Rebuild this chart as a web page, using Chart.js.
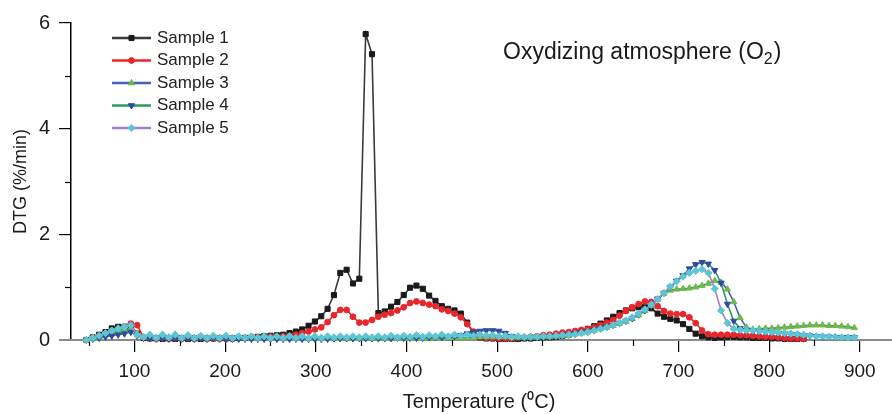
<!DOCTYPE html>
<html>
<head>
<meta charset="utf-8">
<script src="https://cdn.jsdelivr.net/npm/chart.js@4.4.1/dist/chart.umd.min.js"></script>
<style>
  html, body { margin: 0; padding: 0; background: #fff; }
</style>
</head>
<body>
<canvas id="graficoDTG" width="892" height="414"></canvas>
<script>
// temperatura (oC) - passo de 7 graus
const temperaturas = [
  47, 54, 61, 68, 75, 82, 89, 96, 103, 110,
  117, 124, 131, 138, 145, 152, 159, 166, 173, 180,
  187, 194, 201, 208, 215, 222, 229, 236, 243, 250,
  257, 264, 271, 278, 285, 292, 299, 306, 313, 320,
  327, 334, 341, 348, 355, 362, 369, 376, 383, 390,
  397, 404, 411, 418, 425, 432, 439, 446, 453, 460,
  467, 474, 481, 488, 495, 502, 509, 516, 523, 530,
  537, 544, 551, 558, 565, 572, 579, 586, 593, 600,
  607, 614, 621, 628, 635, 642, 649, 656, 663, 670,
  677, 684, 691, 698, 705, 712, 719, 726, 733, 740,
  747, 754, 761, 768, 775, 782, 789, 796, 803, 810,
  817, 824, 831, 838, 845, 852, 859, 866, 873, 880,
  887, 894
];

const amostra1 = [
  0, 0.05, 0.1, 0.15, 0.22, 0.25, 0.25, 0.27, 0.12, 0.04,
  0.03, 0.03, 0.02, 0.03, 0.02, 0.03, 0.02, 0.03, 0.02, 0.03,
  0.03, 0.03, 0.03, 0.03, 0.04, 0.04, 0.05, 0.06, 0.07, 0.08,
  0.09, 0.1, 0.13, 0.16, 0.2, 0.27, 0.35, 0.45, 0.59, 0.85,
  1.27, 1.33, 1.07, 1.16, 5.79, 5.41, 0.51, 0.54, 0.63, 0.72,
  0.85, 0.99, 1.03, 0.97, 0.84, 0.74, 0.64, 0.59, 0.56, 0.5,
  0.33, 0.12, 0.05, 0.03, 0.03, 0.02, 0.02, 0.02, 0.02, 0.03,
  0.03, 0.04, 0.05, 0.05, 0.06, 0.08, 0.1, 0.13, 0.17, 0.21,
  0.26, 0.31, 0.37, 0.44, 0.51, 0.56, 0.6, 0.62, 0.63, 0.6,
  0.5, 0.44, 0.4, 0.37, 0.3, 0.21, 0.12, 0.07, 0.05, 0.04,
  0.05, 0.06, 0.06, 0.05, 0.05, 0.04, 0.04, 0.04, 0.03, 0.03,
  0.02, 0.02, 0.02, 0.02
];

const amostra2 = [
  0, 0.04, 0.08, 0.12, 0.17, 0.21, 0.25, 0.31, 0.28, 0.05,
  0.04, 0.03, 0.04, 0.03, 0.04, 0.03, 0.04, 0.03, 0.04, 0.03,
  0.03, 0.03, 0.03, 0.03, 0.04, 0.04, 0.04, 0.05, 0.05, 0.06,
  0.06, 0.07, 0.08, 0.1, 0.13, 0.16, 0.2, 0.24, 0.34, 0.47,
  0.57, 0.57, 0.44, 0.33, 0.33, 0.38, 0.44, 0.48, 0.51, 0.56,
  0.62, 0.7, 0.73, 0.7, 0.67, 0.64, 0.58, 0.55, 0.5, 0.43,
  0.3, 0.16, 0.06, 0.04, 0.03, 0.03, 0.03, 0.03, 0.04, 0.05,
  0.06, 0.07, 0.09, 0.1, 0.12, 0.14, 0.15, 0.17, 0.19, 0.21,
  0.24, 0.28, 0.33, 0.38, 0.46, 0.55, 0.62, 0.68, 0.73, 0.72,
  0.64, 0.55, 0.5, 0.49, 0.49, 0.43, 0.32, 0.18, 0.11, 0.1,
  0.1, 0.1, 0.1, 0.09, 0.09, 0.08, 0.07, 0.06, 0.06, 0.05,
  0.04, 0.03, 0.03, 0.02
];

const amostra3 = [
  0, 0.03, 0.06, 0.1, 0.15, 0.18, 0.2, 0.22, 0.12, 0.05,
  0.08, 0.04, 0.1, 0.05, 0.1, 0.04, 0.08, 0.04, 0.06, 0.04,
  0.05, 0.04, 0.05, 0.04, 0.04, 0.04, 0.04, 0.03, 0.04, 0.03,
  0.04, 0.03, 0.04, 0.03, 0.03, 0.03, 0.03, 0.03, 0.03, 0.03,
  0.03, 0.03, 0.03, 0.03, 0.03, 0.03, 0.03, 0.03, 0.03, 0.03,
  0.03, 0.03, 0.03, 0.03, 0.03, 0.04, 0.03, 0.04, 0.04, 0.04,
  0.05, 0.05, 0.06, 0.06, 0.06, 0.06, 0.06, 0.05, 0.05, 0.05,
  0.05, 0.05, 0.06, 0.06, 0.07, 0.08, 0.09, 0.11, 0.13, 0.15,
  0.18, 0.21, 0.24, 0.27, 0.31, 0.35, 0.4, 0.47, 0.55, 0.65,
  0.77, 0.88, 0.94, 0.96, 0.97, 0.98, 1.0, 1.03, 1.07, 1.12,
  1.09, 0.96, 0.72, 0.42, 0.24, 0.2, 0.21, 0.22, 0.22, 0.23,
  0.24, 0.25, 0.26, 0.27, 0.28, 0.28, 0.28, 0.27, 0.27, 0.26,
  0.25, 0.23
];

const amostra4 = [
  0, 0.02, 0.04, 0.06, 0.08, 0.1, 0.12, 0.15, 0.08, 0.04,
  0.03, 0.02, 0.03, 0.02, 0.03, 0.02, 0.03, 0.02, 0.03, 0.02,
  0.03, 0.02, 0.02, 0.02, 0.02, 0.02, 0.02, 0.02, 0.02, 0.02,
  0.02, 0.02, 0.02, 0.02, 0.02, 0.02, 0.02, 0.02, 0.02, 0.03,
  0.03, 0.03, 0.03, 0.03, 0.03, 0.03, 0.03, 0.03, 0.03, 0.04,
  0.04, 0.04, 0.04, 0.04, 0.05, 0.05, 0.05, 0.06, 0.07, 0.09,
  0.12, 0.15, 0.17, 0.18, 0.18, 0.17, 0.13, 0.07, 0.05, 0.04,
  0.04, 0.05, 0.05, 0.06, 0.07, 0.08, 0.1, 0.12, 0.14, 0.16,
  0.19, 0.22, 0.25, 0.28, 0.32, 0.36, 0.41, 0.48, 0.56, 0.66,
  0.78, 0.89, 1.0, 1.12, 1.22, 1.35, 1.43, 1.47, 1.44, 1.32,
  1.08, 0.68, 0.36, 0.22, 0.18, 0.17, 0.16, 0.15, 0.14, 0.13,
  0.12, 0.11, 0.1, 0.09, 0.08, 0.07, 0.06, 0.06, 0.05, 0.05,
  0.05, 0.05
];

const amostra5 = [
  0, 0.04, 0.08, 0.13, 0.18, 0.22, 0.25, 0.28, 0.1, 0.06,
  0.1, 0.04, 0.1, 0.05, 0.1, 0.04, 0.09, 0.04, 0.08, 0.04,
  0.08, 0.04, 0.08, 0.04, 0.07, 0.04, 0.07, 0.04, 0.07, 0.04,
  0.07, 0.04, 0.07, 0.04, 0.07, 0.04, 0.07, 0.04, 0.07, 0.05,
  0.07, 0.05, 0.07, 0.05, 0.07, 0.05, 0.07, 0.05, 0.08, 0.05,
  0.08, 0.06, 0.09, 0.06, 0.09, 0.07, 0.1, 0.07, 0.1, 0.08,
  0.1, 0.08, 0.1, 0.08, 0.09, 0.07, 0.08, 0.06, 0.07, 0.06,
  0.06, 0.06, 0.07, 0.07, 0.08, 0.09, 0.1, 0.11, 0.13, 0.15,
  0.18, 0.21, 0.24, 0.28, 0.33, 0.37, 0.43, 0.5, 0.58, 0.67,
  0.77, 0.89, 1.01, 1.11, 1.2, 1.27, 1.31, 1.34, 1.27, 0.97,
  0.56, 0.32, 0.21, 0.19, 0.18, 0.18, 0.17, 0.16, 0.15, 0.14,
  0.13, 0.12, 0.11, 0.1, 0.08, 0.07, 0.07, 0.06, 0.06, 0.05,
  0.05, 0.05
];

const nomes = ["Sample 1", "Sample 2", "Sample 3", "Sample 4", "Sample 5"];
const ticksX = [100, 200, 300, 400, 500, 600, 700, 800, 900];
const ticksXMenor = [50, 150, 250, 350, 450, 550, 650, 750, 850];
const ticksY = [0, 2, 4, 6];
const ticksYMenor = [1, 3, 5];

const fonte = '"Liberation Sans", Arial, sans-serif';

const pontos = vals => vals.map((y, i) => ({ x: temperaturas[i], y }));

const serie = (i, vals, linha, marca, estilo, rot, raio, ordem) => ({
  label: nomes[i],
  data: pontos(vals),
  borderColor: linha,
  backgroundColor: marca,
  pointBackgroundColor: marca,
  pointBorderColor: marca,
  pointBorderWidth: 1,
  pointStyle: estilo,
  pointRotation: rot,
  pointRadius: raio,
  borderWidth: 1.6,
  tension: 0,
  clip: false,
  order: ordem
});

// eixos, ticks menores, legenda e titulo
const extras = {
  id: "extras",
  beforeDatasetsDraw(chart) {
    const { ctx, scales: { x, y } } = chart;
    const y0 = y.getPixelForValue(0);
    ctx.save();
    ctx.strokeStyle = "#8a8a8a";
    ctx.lineWidth = 2;
    ctx.beginPath();
    ctx.moveTo(59, y0);
    ctx.lineTo(892, y0);
    ctx.stroke();

    ctx.strokeStyle = "#000";
    ctx.lineWidth = 1.2;
    ticksXMenor.forEach(v => {
      const px = Math.round(x.getPixelForValue(v)) + 0.5;
      ctx.beginPath();
      ctx.moveTo(px, y0);
      ctx.lineTo(px, y0 + 6);
      ctx.stroke();
    });
    ticksYMenor.forEach(v => {
      const py = Math.round(y.getPixelForValue(v)) + 0.5;
      ctx.beginPath();
      ctx.moveTo(x.left, py);
      ctx.lineTo(x.left - 6, py);
      ctx.stroke();
    });
    ctx.restore();
  },
  afterDraw(chart) {
    const ctx = chart.ctx;
    ctx.save();
    chart.data.datasets.forEach((ds, i) => {
      const yy = 38 + i * 22.5;
      ctx.strokeStyle = ds.borderColor;
      ctx.lineWidth = 2.5;
      ctx.beginPath();
      ctx.moveTo(112, yy);
      ctx.lineTo(151, yy);
      ctx.stroke();
      ctx.fillStyle = ds.pointBackgroundColor;
      ctx.strokeStyle = ds.pointBorderColor;
      ctx.lineWidth = 1;
      Chart.helpers.drawPoint(ctx, {
        pointStyle: ds.pointStyle,
        radius: ds.pointRadius,
        rotation: ds.pointRotation,
        borderWidth: 1
      }, 131.5, yy);
      ctx.fillStyle = "#222";
      ctx.font = "17px " + fonte;
      ctx.textBaseline = "middle";
      ctx.textAlign = "left";
      ctx.fillText(ds.label, 157, yy);
    });

    // titulo com subscrito
    ctx.fillStyle = "#1a1a1a";
    ctx.textBaseline = "alphabetic";
    ctx.font = "23px " + fonte;
    let px = 503;
    const parte1 = "Oxydizing atmosphere (O";
    ctx.fillText(parte1, px, 59);
    px += ctx.measureText(parte1).width;
    ctx.font = "16px " + fonte;
    ctx.fillText("2", px, 64);
    px += ctx.measureText("2").width + 1;
    ctx.font = "23px " + fonte;
    ctx.fillText(")", px, 59);
    ctx.restore();
  }
};

new Chart(document.getElementById("graficoDTG"), {
  type: "line",
  data: {
    datasets: [
      serie(0, amostra1, "#3a3a3a", "#1a1a1a", "rect", 0, 3.6, 5),
      serie(1, amostra2, "#e8262b", "#e8262b", "circle", 0, 2.9, 4),
      serie(2, amostra3, "#3f63b5", "#6dbb45", "triangle", 0, 3.6, 3),
      serie(3, amostra4, "#2e9a5c", "#2f4aa0", "triangle", 180, 3.6, 2),
      serie(4, amostra5, "#a37fc8", "#5cc6d6", "rectRot", 0, 3.6, 1)
    ]
  },
  options: {
    responsive: false,
    animation: false,
    layout: { padding: { top: 23, right: 0, bottom: 0, left: 0 } },
    plugins: {
      legend: { display: false },
      tooltip: { enabled: false }
    },
    scales: {
      x: {
        type: "linear",
        min: 30,
        max: 930,
        afterBuildTicks: s => { s.ticks = ticksX.map(v => ({ value: v })); },
        afterFit: s => { s.height = 74; },
        border: { display: false },
        grid: { drawOnChartArea: false, drawTicks: true, tickLength: 12, color: "#000", lineWidth: 1.2 },
        ticks: { color: "#1a1a1a", font: { family: fonte, size: 19 }, padding: 8, maxRotation: 0 },
        title: {
          display: true,
          text: "Temperature (\u2070C)",
          color: "#1a1a1a",
          font: { family: fonte, size: 20 },
          padding: { top: 0, bottom: 0 }
        }
      },
      y: {
        min: 0,
        max: 6,
        afterBuildTicks: s => { s.ticks = ticksY.map(v => ({ value: v })); },
        afterFit: s => { s.width = 71; },
        border: { display: true, color: "#000", width: 1.5 },
        grid: { drawOnChartArea: false, drawTicks: true, tickLength: 12, color: "#000", lineWidth: 1.2 },
        ticks: { color: "#1a1a1a", font: { family: fonte, size: 20 }, padding: 9 },
        title: {
          display: true,
          text: "DTG (%/min)",
          color: "#1a1a1a",
          font: { family: fonte, size: 18 },
          padding: { top: 10, bottom: 0 }
        }
      }
    }
  },
  plugins: [extras]
});
</script>
</body>
</html>
